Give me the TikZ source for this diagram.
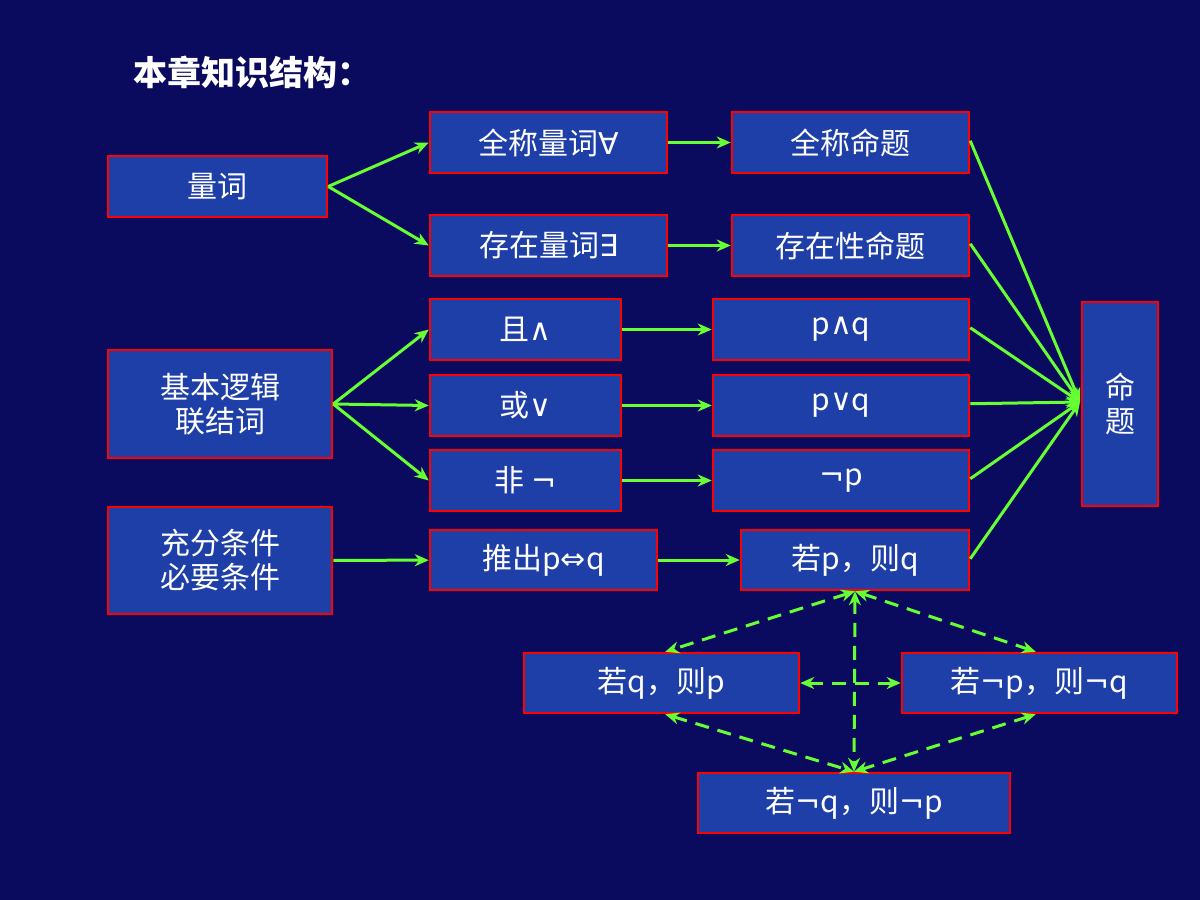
\documentclass[tikz,border=0pt]{standalone}
\usepackage{fontspec}
\setmainfont{Noto Sans CJK SC}
\newfontfamily\symf{DejaVu Sans}
\usetikzlibrary{arrows.meta}
\definecolor{bg}{HTML}{0A0A5E}
\definecolor{bx}{HTML}{1F3FA8}
\definecolor{gr}{HTML}{66FF33}
\begin{document}
\begin{tikzpicture}[x=1pt,y=-1pt,
 bx/.style={draw=red,line width=2.5pt,fill=bx,text=white,font=\fontsize{30}{34}\selectfont,align=center,inner sep=0pt},
 ar/.style={draw=gr,line width=3pt,-{Stealth[length=14pt,width=12pt]}},
 da/.style={draw=gr,line width=3pt,dash pattern=on 14pt off 9pt,{Stealth[length=14pt,width=12pt]}-{Stealth[length=14pt,width=12pt]}}]
\fill[bg] (0,0) rectangle (1200,900);
\node[text=white,font=\fontsize{34}{38}\selectfont\bfseries,anchor=west] (t) at (130,72) {本章知识结构：};
\def\B#1#2#3#4#5#6{\node[bx,minimum width=#4-#2,minimum height=#5-#3] (#1) at ({(#2+#4)/2},{(#3+#5)/2}) {#6};}
\B{lc}{108}{156}{327}{217}{量词}
\B{qc}{430}{112}{667}{173}{全称量词{\symf ∀}}
\B{qm}{732}{112}{969}{173}{全称命题}
\B{cz}{430}{215}{667}{276}{存在量词{\symf ∃}}
\B{cm}{732}{215}{969}{276}{存在性命题}
\B{lj}{108}{350}{332}{458}{基本逻辑\\联结词}
\B{qie}{430}{299}{621}{360}{且{\symf ∧}}
\B{pq1}{713}{299}{969}{360}{p{\symf ∧}q}
\B{huo}{430}{375}{621}{436}{或{\symf ∨}}
\B{pq2}{713}{375}{969}{436}{p{\symf ∨}q}
\B{fei}{430}{450}{621}{511}{非 {\symf ¬}}
\B{np}{713}{450}{969}{511}{{\symf ¬}p}
\B{cf}{108}{507}{332}{614}{充分条件\\必要条件}
\B{tc}{430}{530}{657}{590}{推出p{\symf ⇔}q}
\B{rp}{741}{530}{969}{590}{若p，则q}
\B{mt}{1082}{302}{1158}{506}{命\\题}
\B{rq}{524}{653}{799}{713}{若q，则p}
\B{rnp}{902}{653}{1177}{713}{若{\symf ¬}p，则{\symf ¬}q}
\B{rnq}{698}{773}{1010}{833}{若{\symf ¬}q，则{\symf ¬}p}
\coordinate (m) at (1080,402);
\draw[ar] (lc.east) -- (qc.west);
\draw[ar] (lc.east) -- (cz.west);
\draw[ar] (qc) -- (qm);
\draw[ar] (cz) -- (cm);
\draw[ar] (lj.east) -- (qie.west);
\draw[ar] (lj.east) -- (huo.west);
\draw[ar] (lj.east) -- (fei.west);
\draw[ar] (qie) -- (pq1);
\draw[ar] (huo) -- (pq2);
\draw[ar] (fei) -- (np);
\draw[ar] (cf) -- (tc);
\draw[ar] (tc) -- (rp);
\foreach \n in {qm,cm,pq1,pq2,np,rp} \draw[ar] (\n.north east) ++(0,30) -- (m);
\draw[da] (rp.south) ++(0,0) -- ([xshift=-135pt]rq.north east);
\draw[da] (rp.south) -- ([xshift=135pt]rnp.north west);
\draw[da] (rp.south) -- (rnq.north);
\draw[da] (rq.east) -- (rnp.west);
\draw[da] ([xshift=-135pt]rq.south east) -- (rnq.north);
\draw[da] ([xshift=135pt]rnp.south west) -- (rnq.north);
\end{tikzpicture}
\end{document}
